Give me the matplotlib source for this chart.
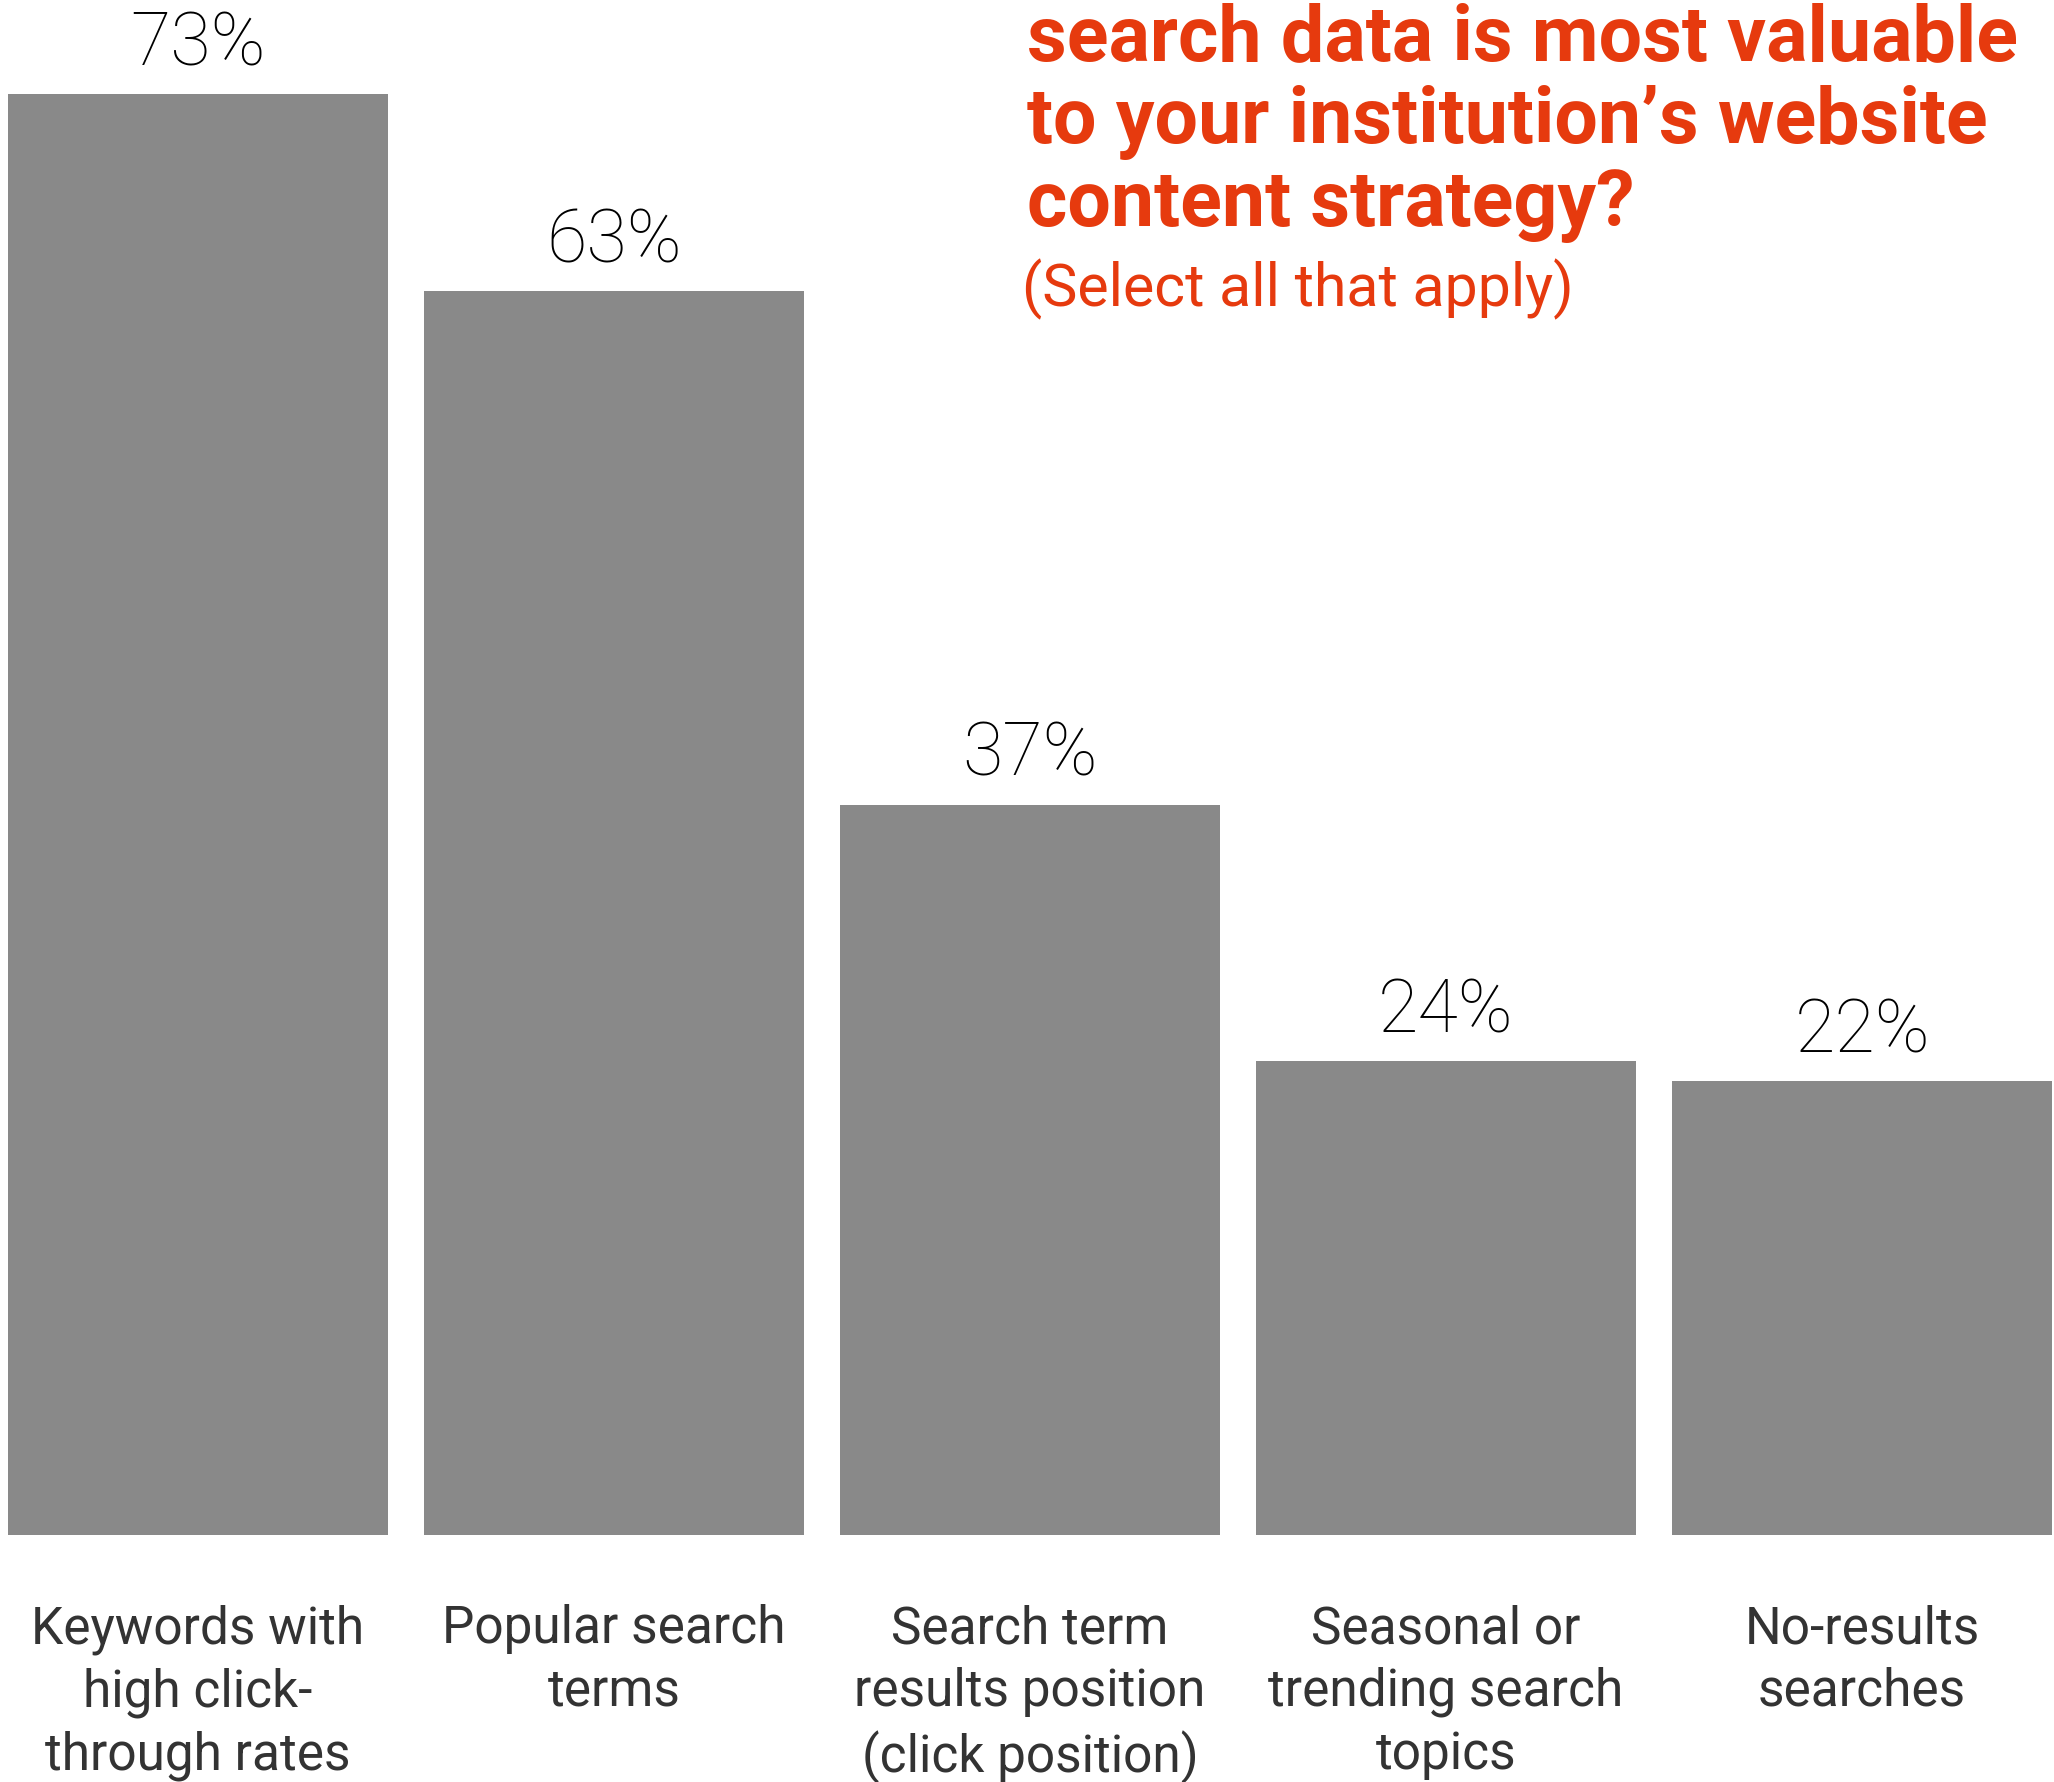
import matplotlib
matplotlib.use("Agg")
import matplotlib.pyplot as plt

# datos de la encuesta
categorias = [
    "Keywords with\nhigh click-\nthrough rates",
    "Popular search\nterms",
    "Search term\nresults position\n(click position)",
    "Seasonal or\ntrending search\ntopics",
    "No-results\nsearches",
]
# altura de las barras tal como se ve en la imagen
porcentajes = [73, 63, 37, 24, 23]
etiquetas = ["73%", "63%", "37%", "24%", "22%"]
titulo = [
    "search data is most valuable",
    "to your institution\u2019s website",
    "content strategy?",
]
subtitulo = "(Select all that apply)"

ROJO = "#E63A0E"
GRIS = "#898989"

plt.rcParams["font.family"] = ["Roboto", "DejaVu Sans"]

W, H = 2054, 1782
fig = plt.figure(figsize=(W / 100, H / 100), dpi=100)
ax = fig.add_axes([8 / W, (H - 1535) / H, 2044 / W, 1535 / H])

x = list(range(len(categorias)))
ancho = 0.913
ax.bar(x, porcentajes, width=ancho, color=GRIS)
ax.set_xlim(-ancho / 2, len(categorias) - 1 + ancho / 2)
ax.set_ylim(0, 1535 / 19.74)

for xi, v, txt in zip(x, porcentajes, etiquetas):
    ax.text(xi, v + 1.45, txt, ha="center", va="baseline",
            fontsize=53, fontweight="light", color="black")

ax.set_xticks(x)
ax.set_xticklabels(categorias, fontsize=37, color="#333333", linespacing=1.32)
ax.tick_params(axis="x", length=0, pad=50)
ax.set_yticks([])
for s in ax.spines.values():
    s.set_visible(False)

# titulo arriba a la derecha
for i, linea in enumerate(titulo):
    fig.text(1027 / W, 1 - (60 + 83 * i) / H, linea, ha="left", va="baseline",
             fontsize=55.5, fontweight="bold", color=ROJO)
fig.text(1022 / W, 1 - 306 / H, subtitulo, ha="left", va="baseline",
         fontsize=42.5, fontweight="normal", color=ROJO)

fig.savefig("out.png", dpi=100, facecolor="white")
